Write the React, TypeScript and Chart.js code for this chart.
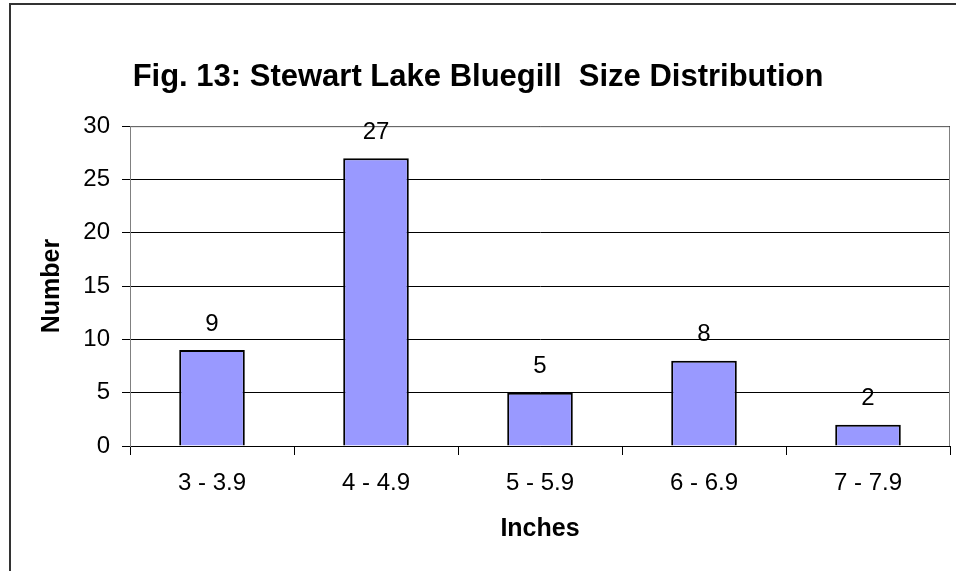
import React, { useEffect, useRef } from "react";
import { Chart, registerables } from "chart.js";

Chart.register(...registerables);

const categories = ["3 - 3.9", "4 - 4.9", "5 - 5.9", "6 - 6.9", "7 - 7.9"];
const counts = [9, 27, 5, 8, 2];
const yMax = 30;
const yStep = 5;
const titleText = "Fig. 13: Stewart Lake Bluegill  Size Distribution";
const xTitle = "Inches";
const yTitle = "Number";

const FONT = "'Liberation Sans', Arial, sans-serif";

const framePlugin = {
  id: "frame",
  beforeDraw(chart: any) {
    const { ctx, width, height } = chart;
    ctx.save();
    ctx.fillStyle = "#ffffff";
    ctx.fillRect(0, 0, width, height);
    ctx.strokeStyle = "#333333";
    ctx.lineWidth = 2;
    ctx.beginPath();
    ctx.moveTo(width + 2, 4);
    ctx.lineTo(10, 4);
    ctx.lineTo(10, height + 2);
    ctx.stroke();
    ctx.restore();
  },
  afterDatasetsDraw(chart: any) {
    const { ctx, chartArea } = chart;
    ctx.save();
    ctx.strokeStyle = "#808080";
    ctx.lineWidth = 1;
    ctx.beginPath();
    ctx.moveTo(chartArea.left, chartArea.top + 0.5);
    ctx.lineTo(chartArea.right - 0.5, chartArea.top + 0.5);
    ctx.lineTo(chartArea.right - 0.5, chartArea.bottom);
    ctx.stroke();
    // value labels
    const meta = chart.getDatasetMeta(0);
    ctx.fillStyle = "#000";
    ctx.font = `24px ${FONT}`;
    ctx.textAlign = "center";
    ctx.textBaseline = "middle";
    meta.data.forEach((el: any, i: number) => {
      const v = chart.data.datasets[0].data[i];
      ctx.fillText(String(v), el.x, el.y - 26);
    });
    ctx.restore();
  },
};

export default function App() {
  const ref = useRef<HTMLCanvasElement | null>(null);
  useEffect(() => {
    if (!ref.current) return;
    const chart = new Chart(ref.current, {
      type: "bar",
      data: {
        labels: categories,
        datasets: [
          {
            data: counts,
            backgroundColor: "#9999FF",
            borderColor: "#000000",
            borderWidth: 2,
            barPercentage: 0.4,
            categoryPercentage: 1,
          },
        ],
      },
      options: {
        responsive: false,
        animation: false,
        devicePixelRatio: 1,
        layout: { padding: { left: 6, right: 6, top: 0, bottom: 0 } },
        plugins: {
          legend: { display: false },
          tooltip: { enabled: false },
          title: {
            display: true,
            text: titleText,
            color: "#000",
            font: { family: FONT, size: 31, weight: "bold" },
            padding: { top: 59, bottom: 30 },
          },
        },
        scales: {
          x: {
            afterFit(scale: any) {
              scale.height = 571 - 446;
            },
            grid: {
              offset: true,
              drawOnChartArea: false,
              drawTicks: true,
              tickLength: 9,
              color: "#000",
            },
            border: { display: true, color: "#000", width: 1 },
            ticks: {
              color: "#000",
              font: { family: FONT, size: 24 },
              padding: 14,
              maxRotation: 0,
            },
            title: {
              display: true,
              text: xTitle,
              color: "#000",
              font: { family: FONT, size: 25, weight: "bold" },
              padding: { top: 0, bottom: 27 },
            },
          },
          y: {
            min: 0,
            max: yMax,
            afterFit(scale: any) {
              scale.width = 124;
            },
            grid: {
              color: "#000",
              tickLength: 8,
              drawTicks: true,
            },
            border: { display: true, color: "#808080", width: 1 },
            ticks: {
              stepSize: yStep,
              color: "#000",
              font: { family: FONT, size: 24 },
              padding: 12,
            },
            title: {
              display: true,
              text: yTitle,
              color: "#000",
              font: { family: FONT, size: 25, weight: "bold" },
              padding: { top: 31, bottom: 0 },
            },
          },
        },
      },
      plugins: [framePlugin],
    });
    return () => chart.destroy();
  }, []);
  return (
    <div style={{ position: "absolute", left: 0, top: 0, width: 956, height: 571 }}>
      <canvas ref={ref} width={956} height={571} />
    </div>
  );
}
